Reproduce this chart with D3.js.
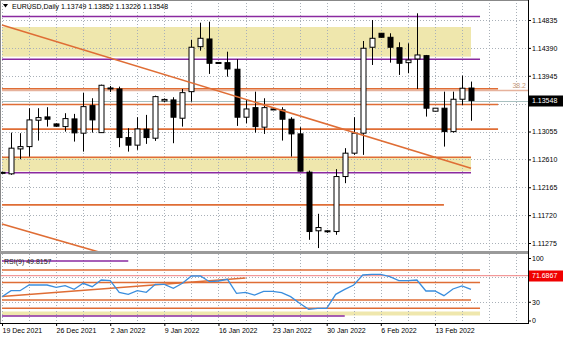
<!DOCTYPE html>
<html>
<head>
<meta charset="utf-8">
<script src="https://cdn.jsdelivr.net/npm/d3@7"></script>
<style>
  body { margin: 0; background: #fff; }
  text { font-family: "Liberation Sans", Arial, sans-serif; font-size: 7px; }
</style>
</head>
<body>
<div id="chart"></div>
<script>
// Bars (daily, broker with Sunday bars)
const dates = [
  "2021-12-19","2021-12-20","2021-12-21","2021-12-22","2021-12-23","2021-12-24",
  "2021-12-26","2021-12-27","2021-12-28","2021-12-29","2021-12-30","2021-12-31",
  "2022-01-02","2022-01-03","2022-01-04","2022-01-05","2022-01-06","2022-01-07",
  "2022-01-09","2022-01-10","2022-01-11","2022-01-12","2022-01-13","2022-01-14",
  "2022-01-16","2022-01-17","2022-01-18","2022-01-19","2022-01-20","2022-01-21",
  "2022-01-23","2022-01-24","2022-01-25","2022-01-26","2022-01-27","2022-01-28",
  "2022-01-30","2022-01-31","2022-02-01","2022-02-02","2022-02-03","2022-02-04",
  "2022-02-06","2022-02-07","2022-02-08","2022-02-09","2022-02-10","2022-02-11",
  "2022-02-13","2022-02-14","2022-02-15","2022-02-16","2022-02-17"
];
const open = [1.12395,1.12379,1.12777,1.12814,1.13235,1.13288,1.13176,1.13133,1.13256,1.13028,1.13468,1.13037,1.13750,1.13734,1.12958,1.12837,1.13092,1.12948,1.13543,1.13559,1.13267,1.13691,1.14409,1.14532,1.14157,1.14154,1.14049,1.13283,1.13436,1.13124,1.13408,1.13400,1.13251,1.13017,1.12406,1.11470,1.11454,1.11458,1.12336,1.12709,1.13028,1.14400,1.14623,1.14559,1.14393,1.14154,1.14213,1.14266,1.13379,1.13427,1.13053,1.13570,1.13749];
const high = [1.12411,1.13037,1.13028,1.13427,1.13427,1.13443,1.13184,1.13347,1.13336,1.13675,1.13586,1.13803,1.13782,1.13771,1.13108,1.13283,1.13320,1.13628,1.13583,1.13602,1.13734,1.14516,1.14792,1.14808,1.14165,1.14329,1.14208,1.13559,1.13691,1.13586,1.13431,1.13443,1.13283,1.13124,1.12431,1.11741,1.11478,1.12454,1.12789,1.13283,1.14500,1.14835,1.14628,1.14623,1.14479,1.14463,1.14942,1.14277,1.13431,1.13691,1.13691,1.13947,1.13852];
const low = [1.12379,1.12363,1.12613,1.12655,1.12910,1.13133,1.13128,1.13053,1.12894,1.12734,1.13037,1.13033,1.13687,1.12805,1.12734,1.12762,1.12857,1.12905,1.13527,1.12868,1.13133,1.13532,1.14345,1.13974,1.14141,1.13931,1.13144,1.13187,1.13037,1.13017,1.13400,1.12910,1.12655,1.12419,1.11326,1.11194,1.11438,1.11406,1.12230,1.12682,1.12682,1.14117,1.14553,1.14154,1.13958,1.13985,1.13734,1.13293,1.13376,1.12814,1.13037,1.13479,1.13226];
const close = [1.12403,1.12789,1.12814,1.13240,1.13277,1.13251,1.13140,1.13261,1.13033,1.13452,1.13240,1.13793,1.13734,1.12958,1.12837,1.13096,1.12958,1.13612,1.13567,1.13283,1.13675,1.14400,1.14543,1.14144,1.14149,1.14053,1.13283,1.13415,1.13133,1.13436,1.13415,1.13251,1.13017,1.12422,1.11458,1.11522,1.11470,1.12336,1.12709,1.13028,1.14384,1.14543,1.14559,1.14400,1.14144,1.14197,1.14277,1.13427,1.13427,1.13053,1.13570,1.13746,1.13548];
const rsi = [38.1,47.7,47.7,56.8,56.8,56.8,53.1,55.7,49.9,59.5,54.1,64.8,63.7,45.1,41.9,47.7,45.1,57.9,57.9,51.5,59.5,71.2,71.2,62.1,63.2,65.9,43.5,45.1,40.8,46.7,46.7,44.5,38.1,27.5,17.9,19.5,19.5,41.9,49.9,56.8,72.8,73.9,73.9,70.1,63.7,63.7,64.8,47.2,47.2,39.7,50.4,55.2,49.8157];

// Axis labels
const labelDates = ["2021-12-19","2021-12-26","2022-01-02","2022-01-09","2022-01-16","2022-01-23","2022-01-30","2022-02-06","2022-02-13"];
const dateLabels = ["19 Dec 2021","26 Dec 2021","2 Jan 2022","9 Jan 2022","16 Jan 2022","23 Jan 2022","30 Jan 2022","6 Feb 2022","13 Feb 2022"];
const priceTicks = [1.14835,1.14390,1.13945,1.13055,1.12610,1.12165,1.11720,1.11275];
const priceGrid = [1.14835,1.14390,1.13945,1.13500,1.13055,1.12610,1.12165,1.11720,1.11275];
const rsiTicks = [100, 30, 0];
const rsiLevels = [70, 30];

// Drawn objects (price, last bar index)
const purpleLevels = [{p:1.14891,to:53},{p:1.14208,to:53},{p:1.12395,to:52}];
const orangeLevels = [{p:1.13738,to:55},{p:1.13487,to:55},{p:1.13093,to:55},{p:1.12645,to:52},{p:1.11884,to:49}];
const zones = [{top:1.14723,bottom:1.14250,to:52},{top:1.12637,bottom:1.12419,to:52}];
const trendLines = [{i0:0,p0:1.14755,i1:52,p1:1.12470},{i0:0,p0:1.11578,i1:12,p1:1.11079}];
const fiboLevel = {p:1.13711,label:"38.2"};
const lastPrice = 1.13548;

const rsiOrange = [{v:80.8,to:53},{v:60.8,to:53},{v:32.8,to:52},{v:19.5,to:53}];
const rsiPurple = [{v:95.2,to:14},{v:7.2,to:38}];
const rsiZone = {top:14.4,bottom:8.0,to:53};
const rsiTrend = {i0:0,v0:38.4,i1:27,v1:68.0};
const rsiMark = 71.6867;

const W = 564, H = 338;
const axisX = 528;
const main = {top: 0, bottom: 251};
const sub = {top: 254, bottom: 323};

const ORANGE = "#df6d35", PURPLE = "#8a2aa0", ZONE = "#efe7ad";

const svg = d3.select("#chart").append("svg")
  .attr("width", W).attr("height", H)
  .style("display", "block");

svg.append("rect").attr("width", W).attr("height", H).attr("fill", "#fff");

const x = d3.scaleLinear().domain([0, 52]).range([2, 471]);
const y = d3.scaleLinear().domain([1.11275, 1.14835]).range([243, 20]);
const yr = d3.scaleLinear().domain([0, 100]).range([320.5, 258]);

const defs = svg.append("defs");
defs.append("clipPath").attr("id", "clipMain")
  .append("rect").attr("x", 1).attr("y", main.top).attr("width", axisX - 1).attr("height", main.bottom - main.top);
defs.append("clipPath").attr("id", "clipSub")
  .append("rect").attr("x", 1).attr("y", sub.top).attr("width", axisX - 1).attr("height", sub.bottom - sub.top);

const gMain = svg.append("g").attr("clip-path", "url(#clipMain)");
const gSub = svg.append("g").attr("clip-path", "url(#clipSub)");

// zones
gMain.selectAll(".zone").data(zones).enter().append("rect")
  .attr("x", x(0)).attr("y", d => y(d.top))
  .attr("width", d => x(d.to) - x(0))
  .attr("height", d => y(d.bottom) - y(d.top))
  .attr("fill", ZONE);

gSub.append("rect")
  .attr("x", x(0)).attr("y", yr(rsiZone.top))
  .attr("width", x(rsiZone.to) - x(0))
  .attr("height", yr(rsiZone.bottom) - yr(rsiZone.top))
  .attr("fill", ZONE);

// grid
const gridIdx = d3.range(0, 58, 3);
const gridStyle = sel => sel.attr("stroke", "#a9b0b8").attr("stroke-width", 1)
  .attr("stroke-dasharray", "1,2").attr("shape-rendering", "crispEdges");

gMain.selectAll(".vg").data(gridIdx).enter().append("line")
  .attr("x1", d => Math.round(x(d)) + 0.5).attr("x2", d => Math.round(x(d)) + 0.5)
  .attr("y1", main.top).attr("y2", main.bottom).call(gridStyle);
gMain.selectAll(".hg").data(priceGrid).enter().append("line")
  .attr("x1", 0).attr("x2", axisX)
  .attr("y1", d => Math.round(y(d)) + 0.5).attr("y2", d => Math.round(y(d)) + 0.5).call(gridStyle);
gSub.selectAll(".vg").data(gridIdx).enter().append("line")
  .attr("x1", d => Math.round(x(d)) + 0.5).attr("x2", d => Math.round(x(d)) + 0.5)
  .attr("y1", sub.top).attr("y2", sub.bottom).call(gridStyle);
gSub.selectAll(".hg").data(rsiLevels).enter().append("line")
  .attr("x1", 0).attr("x2", axisX)
  .attr("y1", d => Math.round(yr(d)) + 0.5).attr("y2", d => Math.round(yr(d)) + 0.5).call(gridStyle);

// horizontal levels in main pane
gMain.append("line")
  .attr("x1", x(0)).attr("x2", axisX)
  .attr("y1", y(fiboLevel.p)).attr("y2", y(fiboLevel.p))
  .attr("stroke", "#e6b29c").attr("stroke-width", 1.5);
gMain.append("line")
  .attr("x1", x(0)).attr("x2", axisX)
  .attr("y1", Math.round(y(lastPrice)) + 0.5).attr("y2", Math.round(y(lastPrice)) + 0.5)
  .attr("stroke", "#a8c0c0").attr("stroke-width", 1);

gMain.selectAll(".ol").data(orangeLevels).enter().append("line")
  .attr("x1", x(0)).attr("x2", d => x(d.to))
  .attr("y1", d => y(d.p)).attr("y2", d => y(d.p))
  .attr("stroke", ORANGE).attr("stroke-width", 1.6);
gMain.selectAll(".pl").data(purpleLevels).enter().append("line")
  .attr("x1", x(0)).attr("x2", d => x(d.to))
  .attr("y1", d => y(d.p)).attr("y2", d => y(d.p))
  .attr("stroke", PURPLE).attr("stroke-width", 1.5);

gMain.append("text")
  .attr("x", axisX - 2).attr("y", y(fiboLevel.p) - 2)
  .attr("text-anchor", "end").attr("fill", "#c89a78")
  .text(fiboLevel.label);

// candles
const bars = d3.range(dates.length);
const cx = i => Math.round(x(i)) + 0.5;
gMain.selectAll(".wick").data(bars).enter().append("line")
  .attr("x1", cx).attr("x2", cx)
  .attr("y1", i => y(high[i])).attr("y2", i => y(low[i]))
  .attr("stroke", "#000").attr("stroke-width", 1);
gMain.selectAll(".body").data(bars).enter().append("rect")
  .attr("x", i => cx(i) - 2.5)
  .attr("y", i => Math.min(y(open[i]), y(close[i])))
  .attr("width", 5)
  .attr("height", i => Math.max(1, Math.abs(y(open[i]) - y(close[i]))))
  .attr("fill", i => close[i] >= open[i] ? "#fff" : "#000")
  .attr("stroke", "#000").attr("stroke-width", 1);

// trend lines
gMain.selectAll(".tl").data(trendLines).enter().append("line")
  .attr("x1", d => x(d.i0)).attr("y1", d => y(d.p0))
  .attr("x2", d => x(d.i1)).attr("y2", d => y(d.p1))
  .attr("stroke", ORANGE).attr("stroke-width", 1.6);

// RSI pane
gSub.append("line")
  .attr("x1", 0).attr("x2", axisX)
  .attr("y1", yr(rsiMark)).attr("y2", yr(rsiMark))
  .attr("stroke", "#f08080").attr("stroke-width", 1);
gSub.selectAll(".ro").data(rsiOrange).enter().append("line")
  .attr("x1", x(0)).attr("x2", d => x(d.to))
  .attr("y1", d => yr(d.v)).attr("y2", d => yr(d.v))
  .attr("stroke", ORANGE).attr("stroke-width", 1.6);
gSub.selectAll(".rp").data(rsiPurple).enter().append("line")
  .attr("x1", x(0)).attr("x2", d => x(d.to))
  .attr("y1", d => yr(d.v)).attr("y2", d => yr(d.v))
  .attr("stroke", PURPLE).attr("stroke-width", 1.5);
gSub.append("line")
  .attr("x1", x(rsiTrend.i0)).attr("y1", yr(rsiTrend.v0))
  .attr("x2", x(rsiTrend.i1)).attr("y2", yr(rsiTrend.v1))
  .attr("stroke", ORANGE).attr("stroke-width", 1.6);

const rsiLine = d3.line().x((d, i) => x(i)).y(d => yr(d));
gSub.append("path").datum(rsi)
  .attr("d", rsiLine)
  .attr("fill", "none").attr("stroke", "#3a8ede").attr("stroke-width", 1.3);

gSub.append("text").attr("x", 4).attr("y", sub.top + 9.5)
  .attr("fill", "#222").text("RSI(9) " + rsi[rsi.length - 1].toFixed(4));

// frame
const frame = svg.append("g").attr("shape-rendering", "crispEdges");
frame.append("line").attr("x1", 0.5).attr("x2", 0.5).attr("y1", 0).attr("y2", sub.bottom).attr("stroke", "#888");
frame.append("line").attr("x1", 0).attr("x2", axisX).attr("y1", 0.5).attr("y2", 0.5).attr("stroke", "#888");
frame.append("rect").attr("x", 0).attr("y", main.bottom).attr("width", axisX + 1).attr("height", sub.top - main.bottom).attr("fill", "#9a9a9a");
frame.append("line").attr("x1", 0).attr("x2", axisX + 1).attr("y1", sub.bottom + 0.5).attr("y2", sub.bottom + 0.5).attr("stroke", "#000");
frame.append("line").attr("x1", axisX + 0.5).attr("x2", axisX + 0.5).attr("y1", 0).attr("y2", sub.bottom).attr("stroke", "#000");

// axes
const priceAxis = svg.append("g").attr("transform", `translate(${axisX},0)`)
  .call(d3.axisRight(y).tickValues(priceTicks).tickSize(3).tickPadding(1).tickFormat(d3.format(".5f")));
const rsiAxis = svg.append("g").attr("transform", `translate(${axisX},0)`)
  .call(d3.axisRight(yr).tickValues(rsiTicks).tickSize(3).tickPadding(1));
const dateAxis = svg.append("g").attr("transform", `translate(0,${sub.bottom})`)
  .call(d3.axisBottom(x).tickValues(labelDates.map(d => dates.indexOf(d)))
    .tickSize(3).tickPadding(1).tickFormat((d, i) => dateLabels[i]));
[priceAxis, rsiAxis, dateAxis].forEach(g => {
  g.select(".domain").remove();
  g.selectAll("text").attr("fill", "#000").style("font-family", "'Liberation Sans', Arial, sans-serif").style("font-size", "7px");
  g.selectAll("line").attr("stroke", "#000");
});
dateAxis.selectAll("text").attr("text-anchor", "start").attr("dy", "0.9em");

// price markers on the axis
function marker(yPos, fill, label) {
  const g = svg.append("g");
  g.append("rect").attr("x", axisX + 1).attr("y", Math.round(yPos) - 5.5)
    .attr("width", W - axisX - 2).attr("height", 11).attr("fill", fill);
  g.append("text").attr("x", axisX + 4).attr("y", yPos).attr("dy", "0.35em")
    .attr("fill", "#fff").text(label);
}
marker(y(lastPrice), "#000", d3.format(".5f")(lastPrice));
marker(yr(rsiMark), "#f00000", d3.format(".4f")(rsiMark));

// header
svg.append("path").attr("d", "M3,4 L8,4 L5.5,7.5 Z").attr("fill", "#000");
svg.append("text").attr("x", 12).attr("y", 9)
  .attr("fill", "#000")
  .text(`EURUSD,Daily ${open[52].toFixed(5)} ${high[52].toFixed(5)} ${low[52].toFixed(5)} ${close[52].toFixed(5)}`);
</script>
</body>
</html>
